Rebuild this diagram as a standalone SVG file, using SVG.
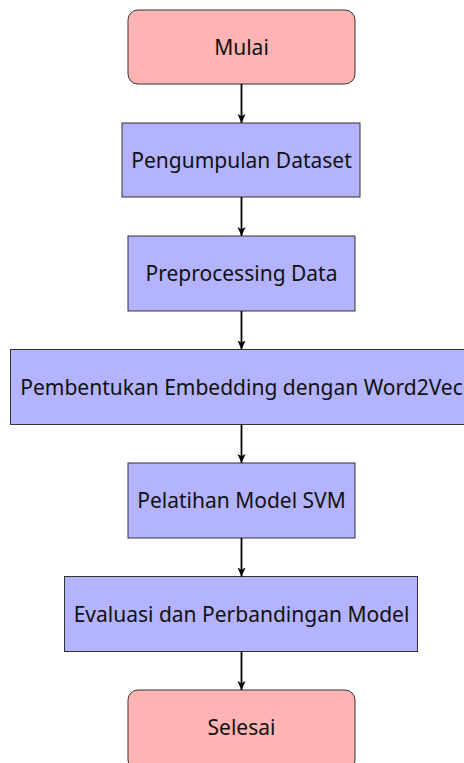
<svg xmlns="http://www.w3.org/2000/svg" width="464" height="763" viewBox="0 0 464 763">
<defs>
<style>
.term{fill:#ffb3b3;stroke:#333;stroke-width:1}
.proc{fill:#b3b3ff;stroke:#333;stroke-width:1}
text{font-family:"Noto Sans","Open Sans",sans-serif;font-size:21px;fill:#111;text-anchor:middle;dominant-baseline:central}
.conn line{stroke:#000;stroke-width:1.8;fill:none}
</style>
<marker id="ah" viewBox="0 0 10 10" refX="10" refY="5" markerWidth="9" markerHeight="9" markerUnits="userSpaceOnUse" orient="auto">
<path d="M0,0.5 L10,5 L0,9.5 L2.5,5 Z" fill="#000"/>
</marker>
</defs>
<rect width="464" height="763" fill="#fff"/>
<g id="mulai"><rect class="term" x="128" y="10" width="227" height="74" rx="10"/><text x="241.5" y="47">Mulai</text></g>
<g id="pengumpulan"><rect class="proc" x="122" y="123" width="238" height="74"/><text x="241.5" y="160">Pengumpulan Dataset</text></g>
<g id="preprocessing"><rect class="proc" x="128" y="236" width="227" height="75"/><text x="241.5" y="273">Preprocessing Data</text></g>
<g id="embedding"><rect class="proc" x="10.5" y="349.5" width="462" height="75"/><text x="241.5" y="387">Pembentukan Embedding dengan Word2Vec</text></g>
<g id="pelatihan"><rect class="proc" x="128" y="463" width="227" height="75"/><text x="241.5" y="500">Pelatihan Model SVM</text></g>
<g id="evaluasi"><rect class="proc" x="64.5" y="576.5" width="353" height="75"/><text x="241.5" y="614">Evaluasi dan Perbandingan Model</text></g>
<g id="selesai"><rect class="term" x="128" y="690" width="227" height="80" rx="10"/><text x="241.5" y="727">Selesai</text></g>
<g class="conn">
<line x1="241.5" y1="84" x2="241.5" y2="123" marker-end="url(#ah)"/>
<line x1="241.5" y1="197" x2="241.5" y2="236" marker-end="url(#ah)"/>
<line x1="241.5" y1="311" x2="241.5" y2="349.5" marker-end="url(#ah)"/>
<line x1="241.5" y1="424.5" x2="241.5" y2="463" marker-end="url(#ah)"/>
<line x1="241.5" y1="538" x2="241.5" y2="576.5" marker-end="url(#ah)"/>
<line x1="241.5" y1="651.5" x2="241.5" y2="690" marker-end="url(#ah)"/>
</g>
</svg>
